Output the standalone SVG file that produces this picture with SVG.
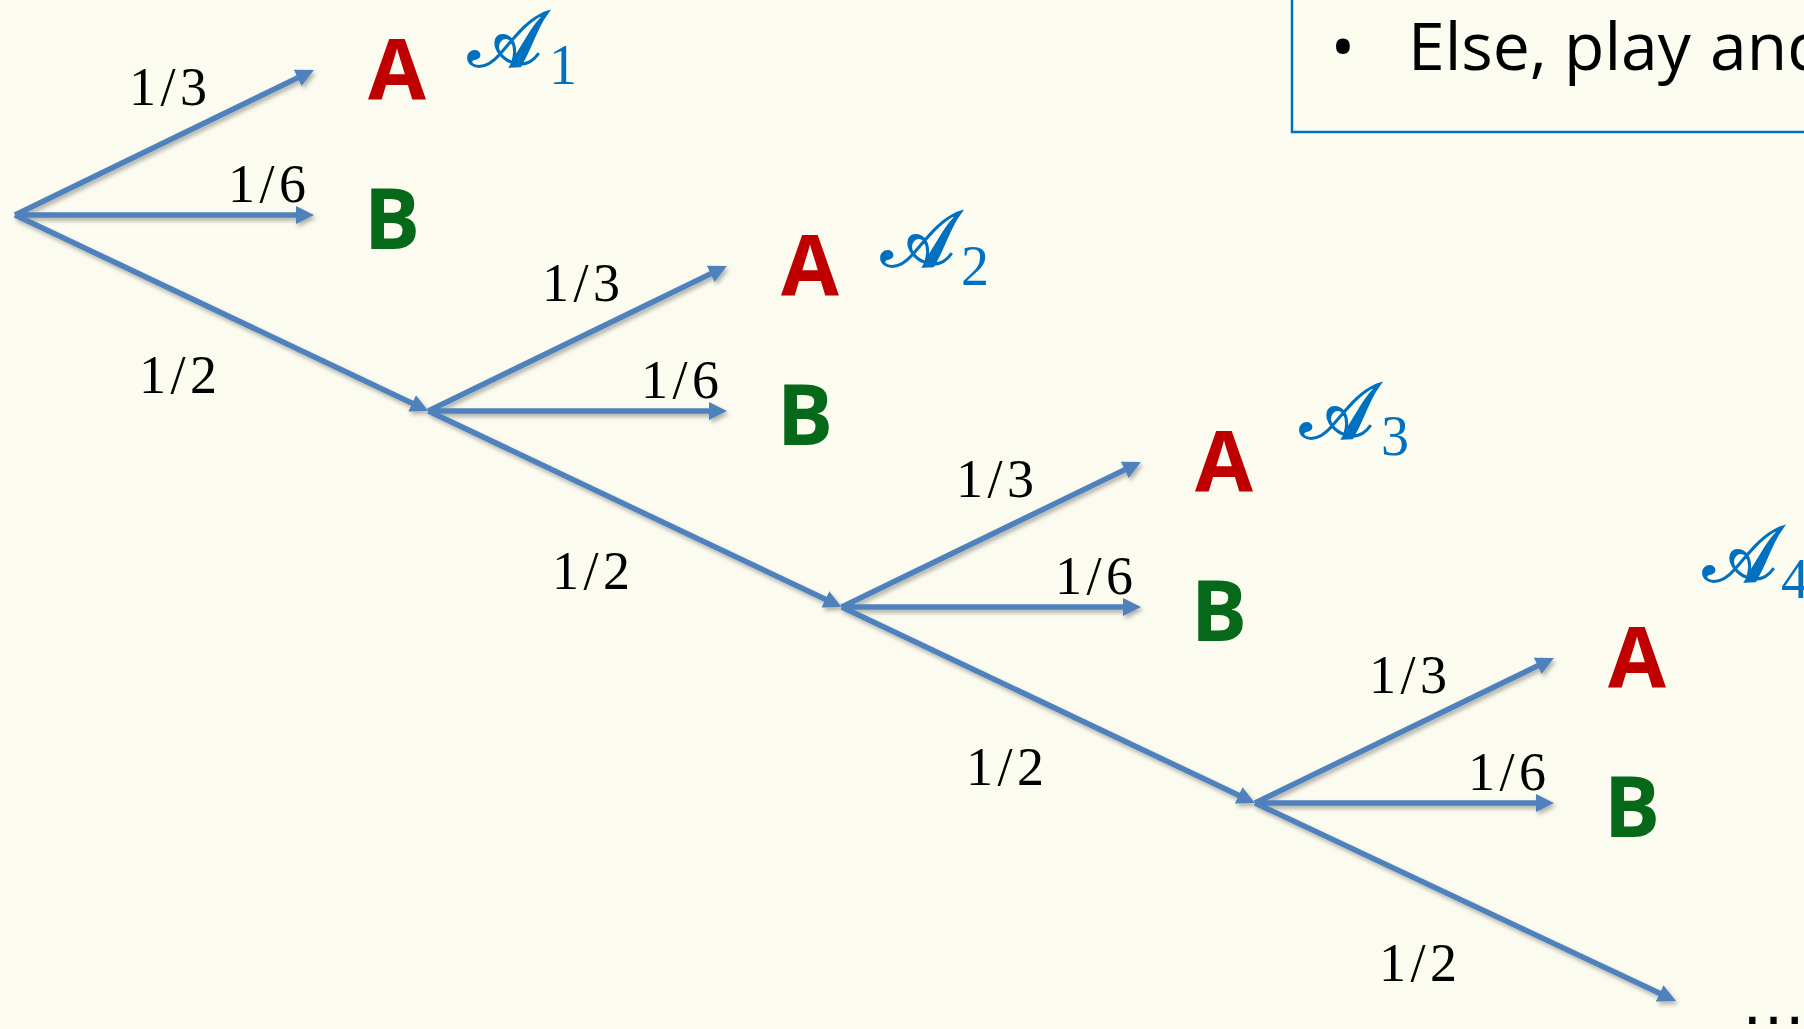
<svg xmlns="http://www.w3.org/2000/svg" width="1804" height="1029" viewBox="0 0 1804 1029">
  <defs>
    <style>
      .edge { stroke: #4F81BD; stroke-width: 5.5; fill: none; marker-end: url(#head); }
      .prob { font-family: "Liberation Serif", "Times New Roman", serif; font-size: 54px; fill: #000; text-anchor: middle; }
      .labA { font-family: "Open Sans", "Liberation Sans", sans-serif; font-weight: 700; font-size: 84px; fill: #C00000; text-anchor: middle; }
      .labB { font-family: "Open Sans", "Liberation Sans", sans-serif; font-weight: 700; font-size: 84px; fill: #06691A; text-anchor: middle; }
      .alg { font-family: "DejaVu Serif", "DejaVu Sans", "Noto Sans", serif; font-size: 78px; fill: #0070C0; stroke: #0070C0; stroke-width: 1.8; }
      .sub { font-family: "Liberation Serif", "Times New Roman", serif; font-size: 56px; fill: #0070C0; }
      .note { font-family: "Open Sans", "Liberation Sans", sans-serif; font-size: 66px; fill: #000; }
    </style>
    <marker id="head" markerUnits="userSpaceOnUse" markerWidth="18" markerHeight="18" refX="7" refY="9" orient="auto">
      <path d="M0,0 L18,9 L0,18 Z" fill="#4F81BD"/>
    </marker>
    <filter id="shadow" x="-5%" y="-5%" width="110%" height="110%">
      <feDropShadow dx="2" dy="3" stdDeviation="2" flood-color="#000" flood-opacity="0.3"/>
    </filter>
  </defs>

  <rect x="0" y="0" width="1804" height="1029" fill="#FBFBF0"/>

  <!-- rule box, partly off the top and right edge -->
  <g id="note">
    <rect x="1292" y="-10" width="600" height="142" fill="none" stroke="#0070C0" stroke-width="2.5"/>
    <text class="note" x="1343" y="70" text-anchor="middle" font-size="72">•</text>
    <text class="note" x="1408" y="70">Else, play <tspan x="1710">and</tspan></text>
  </g>

  <!-- branches of the tree -->
  <g id="connectors" filter="url(#shadow)">
    <!-- level 1 -->
    <line class="edge" x1="15" y1="215" x2="304" y2="74.8"/>
    <line class="edge" x1="15" y1="215" x2="303" y2="215"/>
    <line class="edge" x1="15" y1="215" x2="418.4" y2="406.3"/>
    <!-- level 2 -->
    <line class="edge" x1="428.3" y1="411" x2="717" y2="270.8"/>
    <line class="edge" x1="428.3" y1="411" x2="716" y2="411"/>
    <line class="edge" x1="428.3" y1="411" x2="831.7" y2="602.3"/>
    <!-- level 3 -->
    <line class="edge" x1="841.7" y1="607" x2="1131" y2="466.8"/>
    <line class="edge" x1="841.7" y1="607" x2="1130" y2="607"/>
    <line class="edge" x1="841.7" y1="607" x2="1245" y2="798.3"/>
    <!-- level 4 -->
    <line class="edge" x1="1255" y1="803" x2="1544" y2="662.8"/>
    <line class="edge" x1="1255" y1="803" x2="1543" y2="803"/>
    <line class="edge" x1="1255" y1="803" x2="1666" y2="996.3"/>
  </g>

  <!-- branch probabilities -->
  <g id="probabilities">
    <text class="prob" x="168" y="105" textLength="78" lengthAdjust="spacing">1/3</text>
    <text class="prob" x="267" y="202" textLength="78" lengthAdjust="spacing">1/6</text>
    <text class="prob" x="178" y="393" textLength="78" lengthAdjust="spacing">1/2</text>

    <text class="prob" x="581" y="301" textLength="78" lengthAdjust="spacing">1/3</text>
    <text class="prob" x="680" y="398" textLength="78" lengthAdjust="spacing">1/6</text>
    <text class="prob" x="591" y="589" textLength="78" lengthAdjust="spacing">1/2</text>

    <text class="prob" x="995" y="497" textLength="78" lengthAdjust="spacing">1/3</text>
    <text class="prob" x="1094" y="594" textLength="78" lengthAdjust="spacing">1/6</text>
    <text class="prob" x="1005" y="785" textLength="78" lengthAdjust="spacing">1/2</text>

    <text class="prob" x="1408" y="693" textLength="78" lengthAdjust="spacing">1/3</text>
    <text class="prob" x="1507" y="790" textLength="78" lengthAdjust="spacing">1/6</text>
    <text class="prob" x="1418" y="981" textLength="78" lengthAdjust="spacing">1/2</text>
  </g>

  <!-- outcomes -->
  <g id="outcome-A1"><text class="labA" x="397" y="99">A</text></g>
  <g id="outcome-B1"><text class="labB" x="392" y="249">B</text></g>
  <g id="outcome-A2"><text class="labA" x="810" y="295">A</text></g>
  <g id="outcome-B2"><text class="labB" x="805" y="445">B</text></g>
  <g id="outcome-A3"><text class="labA" x="1224" y="491">A</text></g>
  <g id="outcome-B3"><text class="labB" x="1219" y="641">B</text></g>
  <g id="outcome-A4"><text class="labA" x="1637" y="687">A</text></g>
  <g id="outcome-B4"><text class="labB" x="1632" y="837">B</text></g>

  <!-- event names: script A with subscript index -->
  <g id="event-1"><text class="alg" x="468" y="66">𝒜</text><text class="sub" x="549" y="84">1</text></g>
  <g id="event-2"><text class="alg" x="881" y="266">𝒜</text><text class="sub" x="961" y="285">2</text></g>
  <g id="event-3"><text class="alg" x="1300" y="438">𝒜</text><text class="sub" x="1381" y="455">3</text></g>
  <g id="event-4"><text class="alg" x="1703" y="581">𝒜</text><text class="sub" x="1781" y="598">4</text></g>

  <!-- continuation -->
  <g id="ellipsis">
    <text x="1740" y="1024" font-family="Liberation Sans, Arial, sans-serif" font-size="67" fill="#000">…</text>
  </g>
</svg>
